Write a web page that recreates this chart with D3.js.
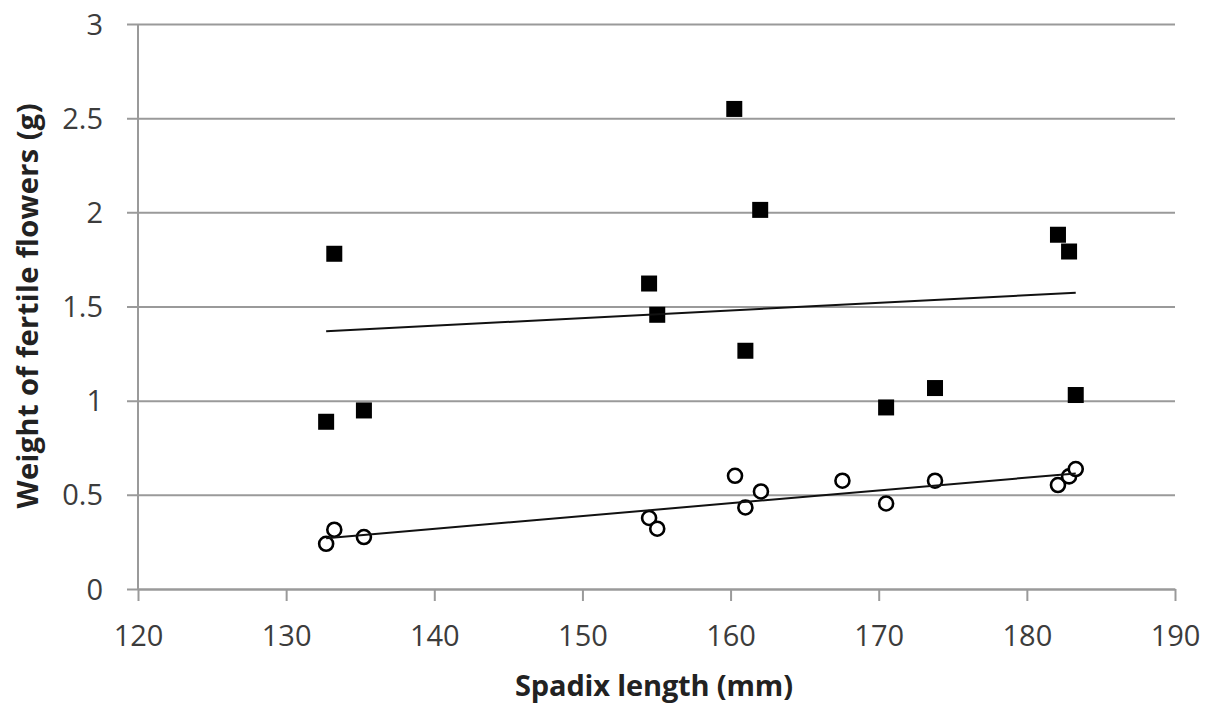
<!DOCTYPE html>
<html>
<head>
<meta charset="utf-8">
<script src="https://cdn.jsdelivr.net/npm/d3@7"></script>
<style>
  html, body { margin: 0; padding: 0; background: #fff; }
  svg { display: block; font-family: "Open Sans", "Liberation Sans", sans-serif; }
</style>
</head>
<body>
<svg id="chart" width="1207" height="706"></svg>
<script>
// Spadix length (mm) for each inflorescence
const spadixFertile = [132.7, 133.25, 135.25, 154.5, 155.05, 160.25, 161.0, 162.0, 170.5, 173.8, 182.1, 182.85, 183.3];
// Weight of fertile flowers (g), filled squares
const weightFertile = [0.888, 1.78, 0.948, 1.622, 1.456, 2.549, 1.265, 2.013, 0.964, 1.067, 1.881, 1.792, 1.030];

// Second series, open circles
const spadixOpen = [132.7, 133.25, 135.25, 154.5, 155.05, 160.3, 161.0, 162.05, 167.55, 170.5, 173.8, 182.1, 182.85, 183.3];
const weightOpen = [0.240, 0.315, 0.276, 0.377, 0.320, 0.601, 0.433, 0.518, 0.575, 0.454, 0.575, 0.552, 0.598, 0.637];

const xTicks = [120, 130, 140, 150, 160, 170, 180, 190];
const yTicks = [0, 0.5, 1, 1.5, 2, 2.5, 3];

const xTitle = "Spadix length (mm)";
const yTitle = "Weight of fertile flowers (g)";

const margin = { left: 138, top: 24, right: 32, bottom: 117 };
const W = 1207, H = 706;
const plotW = W - margin.left - margin.right;
const plotH = H - margin.top - margin.bottom;

const fontFamily = '"Open Sans", "Liberation Sans", sans-serif';

const svg = d3.select("#chart");
const g = svg.append("g").attr("transform", `translate(${margin.left},${margin.top})`);

const x = d3.scaleLinear().domain([120, 190]).range([0, plotW]);
const y = d3.scaleLinear().domain([0, 3]).range([plotH, 0]);

const axisGrey = "#9a9a9a";
const labelColor = "#3c3c3c";

// Horizontal gridlines with outward tick stubs, plus y tick labels
const yAxis = d3.axisLeft(y).tickValues(yTicks).tickSizeOuter(0).tickFormat(d => String(d));
const yg = g.append("g").call(yAxis).attr("font-family", fontFamily);
yg.select(".domain").remove();
yg.selectAll(".tick line")
  .attr("x1", -11).attr("x2", plotW)
  .attr("stroke", axisGrey).attr("stroke-width", 2);
yg.selectAll(".tick text")
  .attr("x", -35).attr("dy", "0.35em")
  .attr("fill", labelColor)
  .style("font-size", "29px");

// Vertical axis line
g.append("line")
  .attr("x1", 0).attr("x2", 0).attr("y1", 0).attr("y2", plotH)
  .attr("stroke", axisGrey).attr("stroke-width", 2);

// Bottom axis
const xAxis = d3.axisBottom(x).tickValues(xTicks).tickSizeInner(12).tickSizeOuter(0).tickFormat(d => String(d));
const xg = g.append("g").attr("transform", `translate(0,${plotH})`).call(xAxis).attr("font-family", fontFamily);
xg.select(".domain").attr("stroke", axisGrey).attr("stroke-width", 2);
xg.selectAll(".tick line").attr("stroke", axisGrey).attr("stroke-width", 2);
xg.selectAll(".tick text")
  .attr("y", 57).attr("dy", 0)
  .attr("fill", labelColor)
  .style("font-size", "29px");

// Least-squares trend over the observed range
function trend(xs, ys) {
  const n = xs.length;
  const mx = d3.mean(xs), my = d3.mean(ys);
  let sxy = 0, sxx = 0;
  for (let i = 0; i < n; i++) {
    sxy += (xs[i] - mx) * (ys[i] - my);
    sxx += (xs[i] - mx) * (xs[i] - mx);
  }
  const b = sxy / sxx, a = my - b * mx;
  const [x0, x1] = d3.extent(xs);
  return [[x0, a + b * x0], [x1, a + b * x1]];
}

const line = d3.line().x(d => x(d[0])).y(d => y(d[1]));

const fertile = spadixFertile.map((s, i) => ({ s, w: weightFertile[i] }));
const open = spadixOpen.map((s, i) => ({ s, w: weightOpen[i] }));

// Filled squares
const sq = 16;
g.append("g").selectAll("rect").data(fertile).join("rect")
  .attr("x", d => x(d.s) - sq / 2)
  .attr("y", d => y(d.w) - sq / 2)
  .attr("width", sq).attr("height", sq)
  .attr("fill", "#000");

// Open circles
g.append("g").selectAll("circle").data(open).join("circle")
  .attr("cx", d => x(d.s))
  .attr("cy", d => y(d.w))
  .attr("r", 7)
  .attr("fill", "#fff")
  .attr("stroke", "#000")
  .attr("stroke-width", 2.6);

// Trend lines
g.append("path").datum(trend(spadixFertile, weightFertile))
  .attr("d", line).attr("fill", "none").attr("stroke", "#111").attr("stroke-width", 2);
g.append("path").datum(trend(spadixOpen, weightOpen))
  .attr("d", line).attr("fill", "none").attr("stroke", "#111").attr("stroke-width", 2);

// Axis titles
svg.append("text")
  .attr("x", 654).attr("y", 696)
  .attr("text-anchor", "middle")
  .attr("fill", "#222")
  .style("font-size", "29px").style("font-weight", "bold")
  .attr("textLength", 278).attr("lengthAdjust", "spacing")
  .text(xTitle);

svg.append("text")
  .attr("transform", "translate(38,306) rotate(-90)")
  .attr("text-anchor", "middle")
  .attr("fill", "#222")
  .style("font-size", "29px").style("font-weight", "bold")
  .attr("textLength", 405).attr("lengthAdjust", "spacing")
  .text(yTitle);
</script>
</body>
</html>
